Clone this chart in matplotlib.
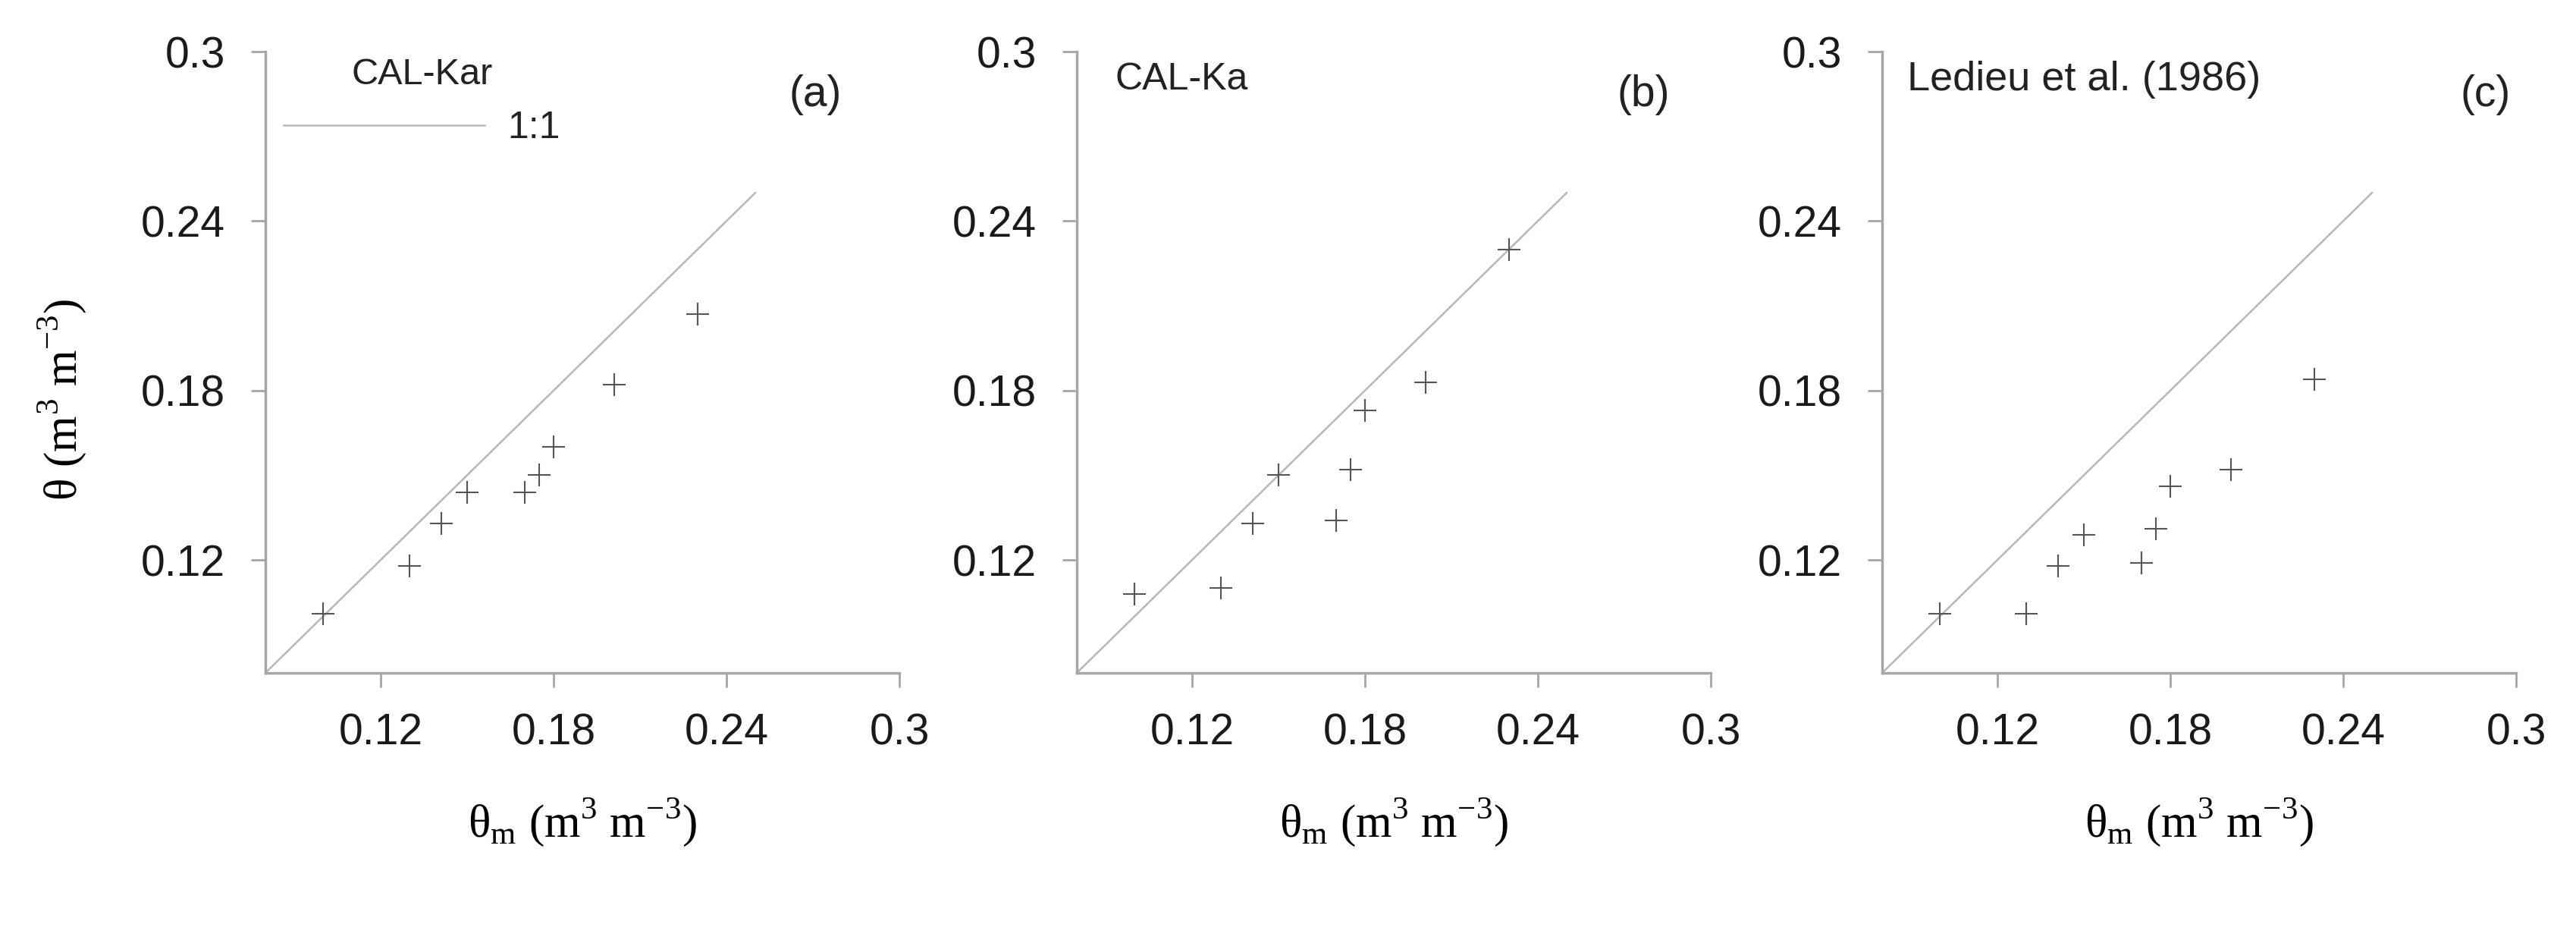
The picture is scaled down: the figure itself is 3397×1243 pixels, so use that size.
import numpy as np
import matplotlib
matplotlib.use("Agg")
import matplotlib.pyplot as plt

# measured soil moisture (same for every panel)
theta_m = [0.100, 0.130, 0.141, 0.150, 0.170, 0.175, 0.180, 0.201, 0.230]

# estimated soil moisture per model
theta_cal_kar = [0.101, 0.118, 0.133, 0.144, 0.144, 0.150, 0.160, 0.182, 0.207]
theta_cal_ka = [0.108, 0.110, 0.133, 0.150, 0.134, 0.152, 0.173, 0.183, 0.230]
theta_ledieu = [0.101, 0.101, 0.118, 0.129, 0.119, 0.131, 0.146, 0.152, 0.184]

panel_names = ["CAL-Kar", "CAL-Ka", "Ledieu et al. (1986)"]
panel_tags = ["(a)", "(b)", "(c)"]
ticks = [0.12, 0.18, 0.24, 0.3]
tick_labels = ["0.12", "0.18", "0.24", "0.3"]
one_to_one = [0.08, 0.25]

plt.rcParams['font.family'] = ['Liberation Sans', 'DejaVu Sans']
plt.rcParams['mathtext.fontset'] = 'custom'
plt.rcParams['mathtext.rm'] = 'Liberation Serif'

W, H = 3398, 1243
fig = plt.figure(figsize=(W / 100, H / 100), dpi=100)

lefts = [350, 1420, 2482]
bottom, top = 887, 68
width = 836

spine_col = "#a6a6a6"
series = [theta_cal_kar, theta_cal_ka, theta_ledieu]
label_font = dict(family=['Liberation Serif', 'DejaVu Serif'], fontsize=44)

for i, est in enumerate(series):
    ax = fig.add_axes([lefts[i] / W, 1 - bottom / H, width / W, (bottom - top) / H])
    ax.set_xlim(0.08, 0.3)
    ax.set_ylim(0.08, 0.3)
    ax.plot(one_to_one, one_to_one, color="#b8b8b8", lw=1.8, label="1:1")
    ax.plot(theta_m, est, linestyle="none", marker="+", markersize=22,
            mew=1.5, color="#555555")

    for s in ["top", "right"]:
        ax.spines[s].set_visible(False)
    for s in ["left", "bottom"]:
        ax.spines[s].set_color(spine_col)
        ax.spines[s].set_linewidth(2.5)
    ax.set_xticks(ticks)
    ax.set_xticklabels(tick_labels)
    ax.set_yticks(ticks)
    ax.set_yticklabels(tick_labels)
    ax.tick_params(length=14, width=2, color=spine_col, labelsize=41,
                   labelcolor="#1a1a1a", pad=24)

    ax.set_xlabel("θ$_\\mathrm{m}$ (m$^\\mathrm{3}$ m$^\\mathrm{-3}$)", **label_font)
    ax.xaxis.set_label_coords(0.5, -0.20)
    if i == 0:
        ax.set_ylabel("θ (m$^\\mathrm{3}$ m$^\\mathrm{-3}$)", **label_font)
        ax.yaxis.set_label_coords(-0.28, 0.44)
        leg = ax.legend(loc="upper left", bbox_to_anchor=(-0.025, 1.045),
                        frameon=False, fontsize=36, title=panel_names[i],
                        title_fontsize=35, handlelength=5.3, handletextpad=0.6)
        leg.get_title().set_color("#222222")
        for t in leg.get_texts():
            t.set_color("#222222")
    else:
        xpos = 0.06 if i == 1 else 0.04
        ax.text(xpos, 0.955, panel_names[i], transform=ax.transAxes,
                fontsize=36 if i == 1 else 39, color="#222222",
                ha="left", va="center")
    tag_x = [0.868, 0.894, 0.952][i]
    ax.text(tag_x, 0.93, panel_tags[i], transform=ax.transAxes,
            fontsize=41, color="#222222", ha="center", va="center")

fig.savefig("out.png", dpi=100)
